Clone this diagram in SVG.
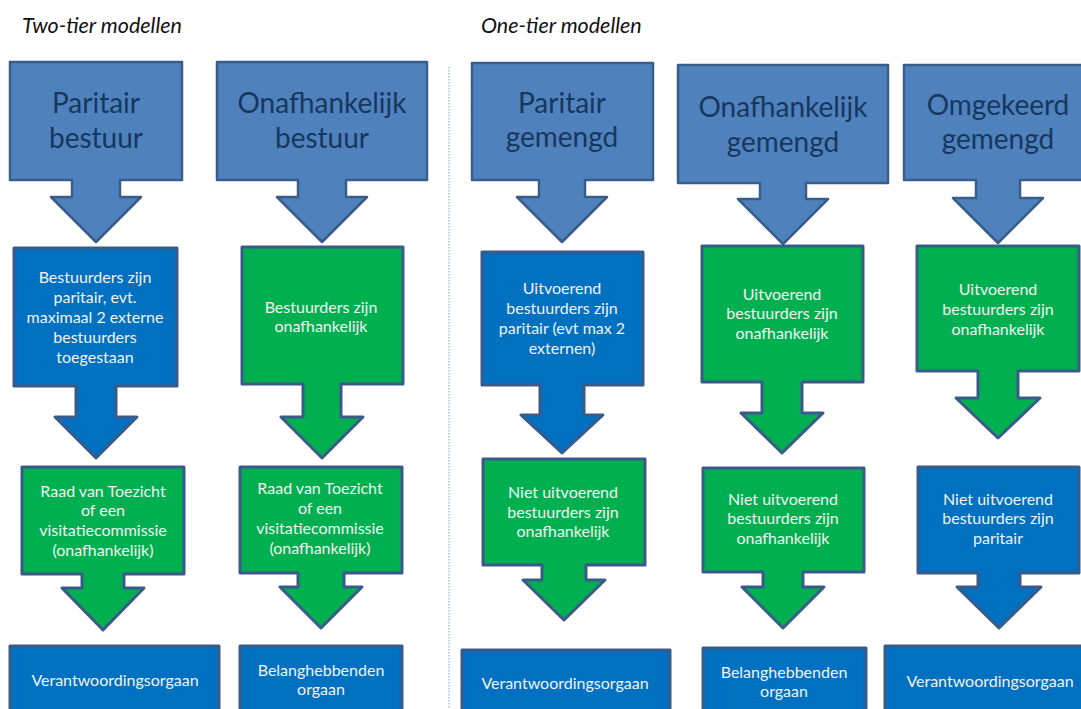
<svg xmlns="http://www.w3.org/2000/svg" width="1081" height="709" viewBox="0 0 1081 709">
<style>
.top{fill:#4F81BD;stroke:#385D8A;stroke-width:2.5;stroke-linejoin:round}
.blue{fill:#0070C0;stroke:#3A5A8A;stroke-width:3;stroke-linejoin:round}
.green{fill:#00B050;stroke:#3A5A8A;stroke-width:3;stroke-linejoin:round}
.tt{font-family:Lato,"Liberation Sans",sans-serif;font-size:28px;fill:#17375E;text-anchor:middle}
.st{font-family:Lato,"Liberation Sans",sans-serif;font-size:16px;fill:#F2F2F2;text-anchor:middle}
.title{font-family:Lato,"Liberation Sans",sans-serif;font-size:21.5px;font-style:italic;fill:#111111}
</style>
<rect width="1081" height="709" fill="#FFFFFF"/>
<g id="titles">
<text class="title" x="22" y="33">Two-tier modellen</text>
<text class="title" x="481" y="33">One-tier modellen</text>
</g>
<g id="divider"><line x1="449" y1="67" x2="449" y2="709" stroke="#8DB3E2" stroke-width="1.2" stroke-dasharray="1.5 1.5"/></g>
<g id="connectors"></g>

<g id="c1n1"><path class="top" d="M10 62H182V180H120V197H141L96 242L51 197H72V180H10Z"/>
<text class="tt" x="96" y="113">Paritair</text><text class="tt" x="96" y="148">bestuur</text></g>
<g id="c2n1"><path class="top" d="M217 62H427V180H346V197H367L322 242L277 197H298V180H217Z"/>
<text class="tt" x="322" y="113">Onafhankelijk</text><text class="tt" x="322" y="148">bestuur</text></g>
<g id="c3n1"><path class="top" d="M472 63H653V180H585V197H607L562 242L517 197H539V180H472Z"/>
<text class="tt" x="562" y="113">Paritair</text><text class="tt" x="562" y="147">gemengd</text></g>
<g id="c4n1"><path class="top" d="M678 65H888V183H806V199H828L783 244L738 199H760V183H678Z"/>
<text class="tt" x="783" y="117">Onafhankelijk</text><text class="tt" x="783" y="152">gemengd</text></g>
<g id="c5n1"><path class="top" d="M904 65H1094V180H1020V198H1043L998 243L953 198H976V180H904Z"/>
<text class="tt" x="998" y="115">Omgekeerd</text><text class="tt" x="998" y="149">gemengd</text></g>

<g id="c1n2"><path class="blue" d="M14 248H177V386H116V417H137L96 458L55 417H76V386H14Z"/>
<text class="st"><tspan x="95" y="283">Bestuurders zijn</tspan><tspan x="95" y="303">paritair, evt.</tspan><tspan x="95" y="323">maximaal 2 externe</tspan><tspan x="95" y="343">bestuurders</tspan><tspan x="95" y="363">toegestaan</tspan></text></g>
<g id="c2n2"><path class="green" d="M242 247H403V384H341V417H363L322 458L281 417H303V384H242Z"/>
<text class="st"><tspan x="321" y="313">Bestuurders zijn</tspan><tspan x="321" y="332">onafhankelijk</tspan></text></g>
<g id="c3n2"><path class="blue" d="M482 252H643V385H584V415H603L562 453L521 415H540V385H482Z"/>
<text class="st"><tspan x="562" y="294">Uitvoerend</tspan><tspan x="562" y="314">bestuurders zijn</tspan><tspan x="562" y="334">paritair (evt max 2</tspan><tspan x="562" y="354">externen)</tspan></text></g>
<g id="c4n2"><path class="green" d="M702 246H863V382H802V413H823L782 453L741 413H762V382H702Z"/>
<text class="st"><tspan x="782" y="300">Uitvoerend</tspan><tspan x="782" y="319">bestuurders zijn</tspan><tspan x="782" y="339">onafhankelijk</tspan></text></g>
<g id="c5n2"><path class="green" d="M917 246H1079V371H1018V398H1040L998 438L956 398H978V371H917Z"/>
<text class="st"><tspan x="998" y="295">Uitvoerend</tspan><tspan x="998" y="315">bestuurders zijn</tspan><tspan x="998" y="335">onafhankelijk</tspan></text></g>

<g id="c1n3"><path class="green" d="M22 467H184V574H124V588H144L103 630L62 588H82V574H22Z"/>
<text class="st"><tspan x="103" y="497">Raad van Toezicht</tspan><tspan x="103" y="516">of een</tspan><tspan x="103" y="536">visitatiecommissie</tspan><tspan x="103" y="556">(onafhankelijk)</tspan></text></g>
<g id="c2n3"><path class="green" d="M240 467H402V573H344V587H362L321 628L280 587H298V573H240Z"/>
<text class="st"><tspan x="320" y="494">Raad van Toezicht</tspan><tspan x="320" y="514">of een</tspan><tspan x="320" y="534">visitatiecommissie</tspan><tspan x="320" y="554">(onafhankelijk)</tspan></text></g>
<g id="c3n3"><path class="green" d="M483 459H645V565H586V580H605L564 620L523 580H542V565H483Z"/>
<text class="st"><tspan x="563" y="498">Niet uitvoerend</tspan><tspan x="563" y="518">bestuurders zijn</tspan><tspan x="563" y="537">onafhankelijk</tspan></text></g>
<g id="c4n3"><path class="green" d="M703 468H864V572H803V587H824L783 628L742 587H763V572H703Z"/>
<text class="st"><tspan x="783" y="505">Niet uitvoerend</tspan><tspan x="783" y="524">bestuurders zijn</tspan><tspan x="783" y="544">onafhankelijk</tspan></text></g>
<g id="c5n3"><path class="blue" d="M918 467H1079V573H1020V587H1041L999 628L957 587H978V573H918Z"/>
<text class="st"><tspan x="998" y="505">Niet uitvoerend</tspan><tspan x="998" y="524">bestuurders zijn</tspan><tspan x="998" y="544">paritair</tspan></text></g>

<g id="c1n4"><rect class="blue" x="10" y="646" width="209" height="80"/>
<text class="st" x="115" y="686">Verantwoordingsorgaan</text></g>
<g id="c2n4"><rect class="blue" x="240" y="646" width="162" height="80"/>
<text class="st"><tspan x="321" y="676">Belanghebbenden</tspan><tspan x="321" y="695">orgaan</tspan></text></g>
<g id="c3n4"><rect class="blue" x="462" y="650" width="208" height="80"/>
<text class="st" x="565" y="689">Verantwoordingsorgaan</text></g>
<g id="c4n4"><rect class="blue" x="703" y="648" width="163" height="80"/>
<text class="st"><tspan x="784" y="678">Belanghebbenden</tspan><tspan x="784" y="697">orgaan</tspan></text></g>
<g id="c5n4"><rect class="blue" x="885" y="646" width="212" height="80"/>
<text class="st" x="990" y="687">Verantwoordingsorgaan</text></g>
</svg>
